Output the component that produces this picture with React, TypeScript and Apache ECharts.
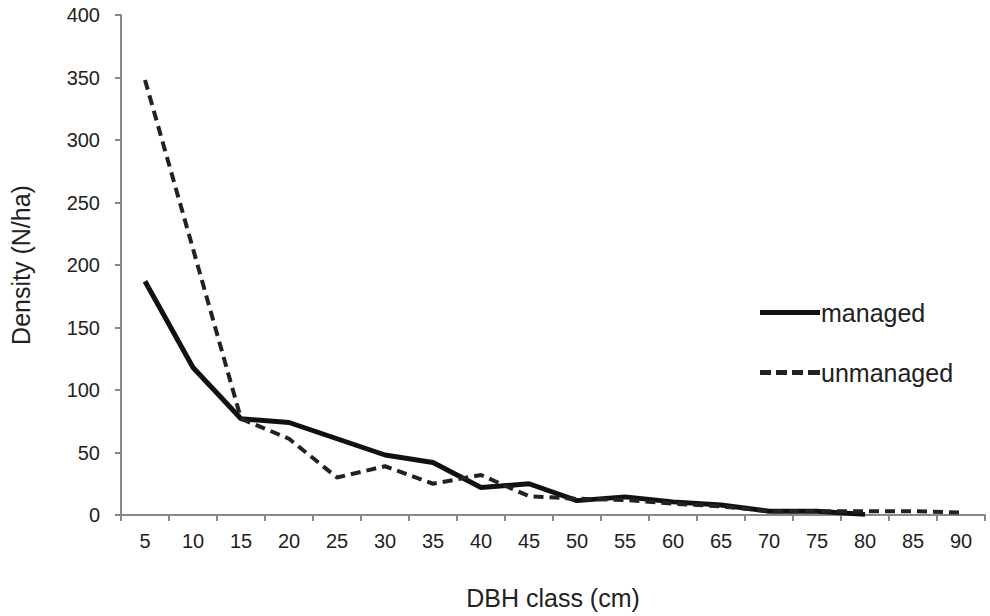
import React, { useEffect, useRef } from "react";
import * as echarts from "echarts";

const categories = ["5", "10", "15", "20", "25", "30", "35", "40", "45", "50", "55", "60", "65", "70", "75", "80", "85", "90"];
const managed = [187, 118, 77, 74, 61, 48, 42, 22, 25, 11.5, 14.5, 10.5, 8, 3, 3, 0.5, null, null];
const unmanaged = [348, 213, 77, 61, 30, 39, 25, 32, 15, 13, 12, 9, 7, 3, 3, 3, 3, 2];
const yTicks = { min: 0, max: 400, interval: 50 };

export default function App() {
  const ref = useRef<HTMLDivElement>(null);
  useEffect(() => {
    if (!ref.current) return;
    const chart = echarts.init(ref.current, undefined, { renderer: "svg" });
    const font = "Liberation Sans, Arial, sans-serif";
    chart.setOption({
      animation: false,
      backgroundColor: "#ffffff",
      grid: { left: 121, right: 5, top: 15, bottom: 101, containLabel: false },
      legend: {
        orient: "vertical",
        left: 755,
        top: 295,
        itemWidth: 60,
        itemHeight: 5,
        itemGap: 35,
        textStyle: { fontFamily: font, fontSize: 25, color: "#222", padding: [0, 0, 0, -4] },
        data: [
          { name: "managed", icon: "path://M0,0h60v5h-60z" },
          { name: "unmanaged", icon: "path://M0,0h11v5h-11z M16,0h11v5h-11z M32,0h11v5h-11z M48,0h12v5h-12z" },
        ],
      },
      xAxis: {
        type: "category",
        data: categories,
        boundaryGap: true,
        name: "DBH class (cm)",
        nameLocation: "middle",
        nameGap: 70,
        nameTextStyle: { fontFamily: font, fontSize: 25, color: "#222" },
        axisLine: { lineStyle: { color: "#888", width: 2 } },
        axisTick: { show: true, alignWithLabel: false, length: 6, lineStyle: { color: "#888", width: 2 } },
        axisLabel: { fontFamily: font, fontSize: 20, color: "#222", margin: 16, interval: 0 },
        splitLine: { show: false },
      },
      yAxis: {
        type: "value",
        min: yTicks.min,
        max: yTicks.max,
        interval: yTicks.interval,
        name: "Density (N/ha)",
        nameLocation: "middle",
        nameGap: 88,
        nameRotate: 90,
        nameTextStyle: { fontFamily: font, fontSize: 25, color: "#222" },
        axisLine: { show: true, lineStyle: { color: "#888", width: 2 } },
        axisTick: { show: true, length: 6, lineStyle: { color: "#888", width: 2 } },
        axisLabel: { fontFamily: font, fontSize: 20, color: "#222", margin: 21 },
        splitLine: { show: false },
      },
      series: [
        {
          name: "managed",
          type: "line",
          data: managed,
          symbol: "none",
          connectNulls: false,
          lineStyle: { color: "#111", width: 5, type: "solid" },
          itemStyle: { color: "#111" },
        },
        {
          name: "unmanaged",
          type: "line",
          data: unmanaged,
          symbol: "none",
          lineStyle: { color: "#222", width: 4, type: [10, 6] },
          itemStyle: { color: "#222" },
        },
      ],
    });
    return () => chart.dispose();
  }, []);
  return <div ref={ref} style={{ width: 990, height: 616, position: "absolute", left: 0, top: 0 }} />;
}
